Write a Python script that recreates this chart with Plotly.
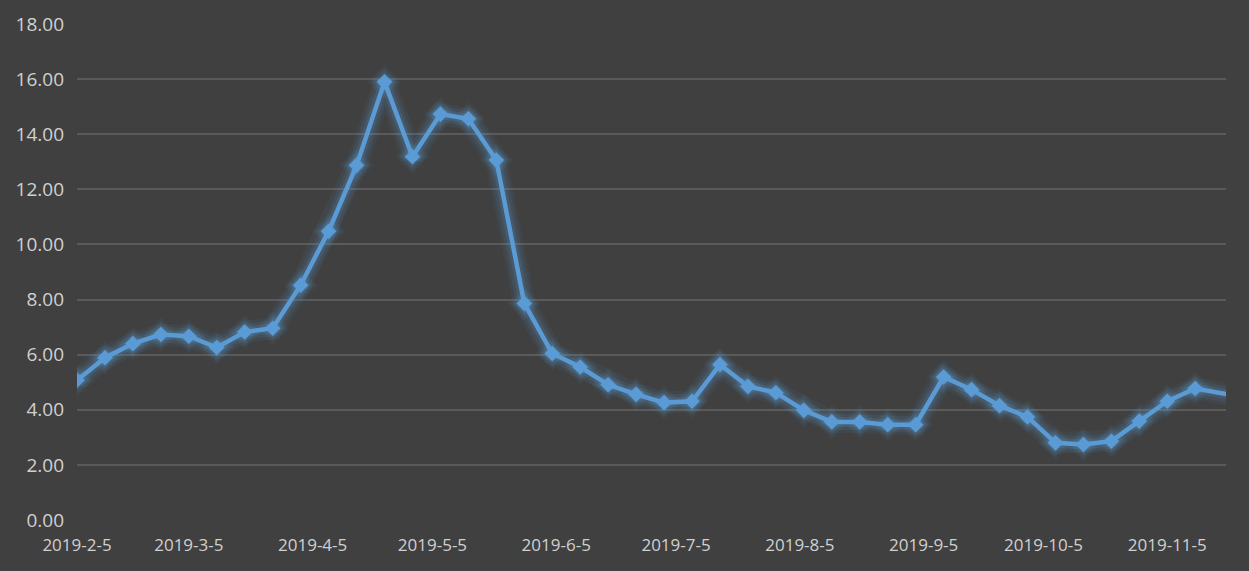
import plotly.graph_objects as go

dates = [
    "2019-02-05", "2019-02-12", "2019-02-19", "2019-02-26",
    "2019-03-05", "2019-03-12", "2019-03-19", "2019-03-26",
    "2019-04-02", "2019-04-09", "2019-04-16", "2019-04-23", "2019-04-30",
    "2019-05-07", "2019-05-14", "2019-05-21", "2019-05-28",
    "2019-06-04", "2019-06-11", "2019-06-18", "2019-06-25",
    "2019-07-02", "2019-07-09", "2019-07-16", "2019-07-23", "2019-07-30",
    "2019-08-06", "2019-08-13", "2019-08-20", "2019-08-27",
    "2019-09-03", "2019-09-10", "2019-09-17", "2019-09-24",
    "2019-10-01", "2019-10-08", "2019-10-15", "2019-10-22", "2019-10-29",
    "2019-11-05", "2019-11-12", "2019-11-26",
]
values = [
    5.07, 5.89, 6.40, 6.73,
    6.67, 6.26, 6.82, 6.96,
    8.52, 10.48, 12.87, 15.90, 13.18,
    14.73, 14.56, 13.06, 7.86,
    6.04, 5.55, 4.91, 4.56,
    4.26, 4.31, 5.64, 4.85, 4.62,
    3.98, 3.56, 3.56, 3.46,
    3.46, 5.19, 4.73, 4.15,
    3.74, 2.80, 2.74, 2.86, 3.59,
    4.31, 4.77, 4.41,
]
tick_dates = ["2019-02-05", "2019-03-05", "2019-04-05", "2019-05-05", "2019-06-05",
              "2019-07-05", "2019-08-05", "2019-09-05", "2019-10-05", "2019-11-05"]
tick_labels = ["2019-2-5", "2019-3-5", "2019-4-5", "2019-5-5", "2019-6-5",
               "2019-7-5", "2019-8-5", "2019-9-5", "2019-10-5", "2019-11-5"]
y_ticks = [0, 2, 4, 6, 8, 10, 12, 14, 16, 18]

BLUE = "#5B9BD5"
fig = go.Figure()
# glow layers
for w, a, ms in [(22, 0.07, 26), (16, 0.10, 21), (10, 0.16, 16)]:
    fig.add_trace(go.Scatter(
        x=dates, y=values, mode="lines+markers",
        line=dict(color=f"rgba(91,155,213,{a})", width=w),
        marker=dict(symbol="diamond", size=ms, color=f"rgba(91,155,213,{a})"),
        hoverinfo="skip", showlegend=False))
fig.add_trace(go.Scatter(
    x=dates, y=values, mode="lines+markers",
    line=dict(color=BLUE, width=4.5),
    marker=dict(symbol="diamond", size=12, color=BLUE),
    showlegend=False))

fig.update_layout(
    width=1249, height=571,
    margin=dict(l=77, r=23, t=24, b=51),
    paper_bgcolor="#404040", plot_bgcolor="#404040",
    font=dict(family="Open Sans", size=17, color="#d0d0d0"),
    xaxis=dict(
        type="date",
        range=["2019-02-05", "2019-11-19 17:00"],
        tickvals=tick_dates, ticktext=tick_labels,
        tickfont=dict(size=17),
        showgrid=False, zeroline=False, showline=False,
        ticks="", ticklabelstandoff=13,
    ),
    yaxis=dict(
        range=[0, 18], tickvals=y_ticks, tickformat=".2f",
        tickfont=dict(size=19),
        showgrid=True, gridcolor="#5a5a5a", gridwidth=1.5,
        zeroline=False, showline=False, ticks="", ticklabelstandoff=12,
    ),
)
fig.write_html("out.html")
